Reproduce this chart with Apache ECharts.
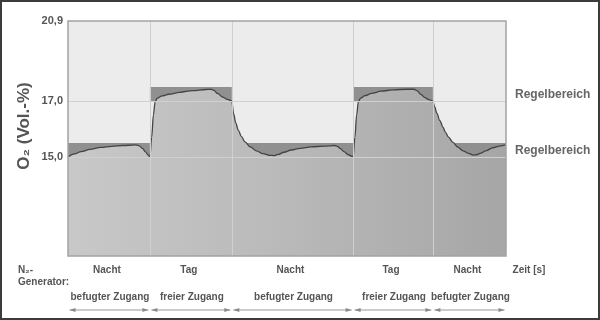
<!DOCTYPE html>
<html><head><meta charset="utf-8">
<script src="https://cdn.jsdelivr.net/npm/echarts@6/dist/echarts.min.js"></script>
<style>html,body{margin:0;padding:0;background:#fff}#c{width:600px;height:320px}</style>
</head><body><div id="c"></div>
<script>
// ---- data ----
const phaseNames = ['Nacht', 'Tag', 'Nacht', 'Tag', 'Nacht'];
const accessNames = ['befugter Zugang', 'freier Zugang', 'befugter Zugang', 'freier Zugang', 'befugter Zugang'];
const phaseBounds = [0, 18.7, 37.4, 65.1, 83.3, 100];   // time (arbitrary units)
const bandLow  = [15.0, 17.0, 15.0, 17.0, 15.0];       // Regelbereich lower limit (Vol.-%)
const bandHigh = [15.5, 17.5, 15.5, 17.5, 15.5];       // Regelbereich upper limit
const yTickValues = [15.0, 17.0, 20.9];
const yTickLabels = ['15,0', '17,0', '20,9'];
const timeT = [
  0, 1.5, 3, 5, 7.5, 10, 12.5, 15.5, 16.3, 17.0, 17.7, 18.3, 18.7,
  19.1, 19.5, 19.9, 20.4, 21.5, 23, 25.5, 28.5, 31.5, 32.6, 33.3, 34.2, 35.3, 36.4, 37.4,
  37.8, 38.3, 38.9, 39.6, 40.4, 41.6, 43.0, 44.5, 46.0, 47.0, 48.0, 49.3, 51.0, 53.0, 55.5, 58.5, 60.8, 61.5, 62.2, 63.0, 64.0, 65.1,
  65.5, 65.9, 66.3, 66.8, 67.8, 69.3, 71.5, 74.2, 77.5, 79.0, 79.7, 80.5, 81.5, 82.4, 83.3,
  83.7, 84.2, 84.9, 85.6, 86.2, 86.8, 87.9, 89.0, 90.2, 91.4, 92.5, 93.3, 94.3, 95.5, 97.0, 98.5, 100];
const o2 = [
  15.00, 15.11, 15.19, 15.27, 15.34, 15.38, 15.41, 15.43, 15.40, 15.31, 15.18, 15.07, 15.00,
  15.70, 16.50, 16.98, 17.10, 17.18, 17.24, 17.31, 17.37, 17.41, 17.42, 17.38, 17.26, 17.14, 17.06, 17.00,
  16.55, 16.22, 15.95, 15.73, 15.54, 15.36, 15.22, 15.12, 15.06, 15.05, 15.09, 15.17, 15.25, 15.31, 15.36, 15.39, 15.41, 15.38, 15.30, 15.19, 15.08, 15.00,
  15.70, 16.50, 16.98, 17.10, 17.19, 17.27, 17.35, 17.40, 17.42, 17.42, 17.37, 17.24, 17.12, 17.05, 17.00,
  16.80, 16.57, 16.30, 16.07, 15.88, 15.72, 15.52, 15.35, 15.22, 15.13, 15.07, 15.08, 15.14, 15.23, 15.33, 15.39, 15.43];

// schematic axis: linear up to 17.5, compressed above (top = 20,9)
const Y_BOTTOM = 11.464, Y_TOP_DISP = 19.857;
function toAxis(v) { return v <= 17.5 ? v : 17.5 + (v - 17.5) * (Y_TOP_DISP - 17.5) / (20.9 - 17.5); }

const curve = timeT.map((t, i) => [t, toAxis(o2[i])]);
const bands = phaseNames.map((n, i) => [
  { xAxis: phaseBounds[i], yAxis: toAxis(bandLow[i]) },
  { xAxis: phaseBounds[i + 1], yAxis: toAxis(bandHigh[i]) }
]);
const gridLines = [];
phaseBounds.slice(1, -1).forEach(b => gridLines.push({ xAxis: b }));
yTickValues.slice(0, -1).forEach(v => gridLines.push({ yAxis: toAxis(v) }));

const FONT = '"Liberation Sans", Arial, sans-serif';
const TXT = '#555';

const chart = echarts.init(document.getElementById('c'), null, { renderer: 'canvas' });
chart.setOption({
  animation: false,
  grid: { left: 68, right: 94, top: 21, bottom: 64, show: true, backgroundColor: '#ececec', borderWidth: 0 },
  xAxis: { type: 'value', min: 0, max: 100, show: false },
  yAxis: { type: 'value', min: Y_BOTTOM, max: Y_TOP_DISP, show: false },
  series: [
    { type: 'line', data: curve, z: 1, smooth: 0.35, smoothMonotone: 'x', symbol: 'none',
      lineStyle: { width: 0 },
      areaStyle: { origin: 'start', opacity: 1,
        color: new echarts.graphic.LinearGradient(0, 0, 1, 0, [
          { offset: 0, color: '#c8c8c8' }, { offset: 0.5, color: '#b9b9b9' }, { offset: 1, color: '#a6a6a6' }]) } },
    { type: 'line', data: [], z: 2, symbol: 'none',
      markArea: { silent: true, itemStyle: { color: 'rgba(70,70,70,0.55)' }, data: bands },
      markLine: { silent: true, symbol: 'none', label: { show: false },
        lineStyle: { color: '#d0d0d0', width: 1, type: 'solid' }, data: gridLines } },
    { type: 'line', data: curve, z: 3, smooth: 0.35, smoothMonotone: 'x', symbol: 'none',
      lineStyle: { color: '#444', width: 1.3 } }
  ]
});

// annotation texts placed via the chart's own scales
const px = v => chart.convertToPixel({ xAxisIndex: 0 }, v);
const py = v => chart.convertToPixel({ yAxisIndex: 0 }, toAxis(v));
const g = [];
const x0 = px(phaseBounds[0]), x1 = px(phaseBounds[phaseBounds.length - 1]);
const yTop = py(20.9), yBot = chart.convertToPixel({ yAxisIndex: 0 }, Y_BOTTOM);
g.push({ type: 'rect', z: 100, shape: { x: x0, y: yTop, width: x1 - x0, height: yBot - yTop },
  style: { fill: null, stroke: '#a3a3a3', lineWidth: 1.5 } });
yTickValues.forEach((v, i) => g.push({ type: 'text', z: 100, x: x0 - 5, y: py(v),
  style: { text: yTickLabels[i], font: 'bold 11px ' + FONT, fill: TXT, align: 'right', verticalAlign: 'middle' } }));
g.push({ type: 'text', z: 100, x: 24, y: 126, rotation: Math.PI / 2,
  style: { text: 'O₂ (Vol.-%)', font: 'bold 17px ' + FONT, fill: TXT, align: 'center', verticalAlign: 'middle' } });
// Regelbereich labels
[1, 0].forEach(i => g.push({ type: 'text', z: 100, x: x1 + 9, y: py((bandLow[i] + bandHigh[i]) / 2) + 1,
  style: { text: 'Regelbereich', font: 'bold 12px ' + FONT, fill: '#666', align: 'left', verticalAlign: 'middle' } }));
const yPhase = yBot + 14, yAccess = yBot + 41, yArrow = yBot + 54;
g.push({ type: 'text', z: 100, x: 18, y: yPhase, style: { text: 'N₂-', font: 'bold 10px ' + FONT, fill: TXT, align: 'left', verticalAlign: 'middle' } });
g.push({ type: 'text', z: 100, x: 18, y: yPhase + 12, style: { text: 'Generator:', font: 'bold 10px ' + FONT, fill: TXT, align: 'left', verticalAlign: 'middle' } });
g.push({ type: 'text', z: 100, x: x1 + 23, y: yPhase, style: { text: 'Zeit [s]', font: 'bold 10px ' + FONT, fill: TXT, align: 'center', verticalAlign: 'middle' } });
phaseNames.forEach((n, i) => {
  const a = px(phaseBounds[i]), b = px(phaseBounds[i + 1]), c = (a + b) / 2;
  g.push({ type: 'text', z: 100, x: c - 2, y: yPhase, style: { text: n, font: 'bold 10px ' + FONT, fill: TXT, align: 'center', verticalAlign: 'middle' } });
  g.push({ type: 'text', z: 100, x: c + 1, y: yAccess, style: { text: accessNames[i], font: 'bold 10px ' + FONT, fill: TXT, align: 'center', verticalAlign: 'middle' } });
  const l = a + 1.5, r = b - 1.5;
  g.push({ type: 'line', z: 100, shape: { x1: l, y1: yArrow, x2: r, y2: yArrow }, style: { stroke: '#9a9a9a', lineWidth: 1 } });
  g.push({ type: 'polygon', z: 100, shape: { points: [[l, yArrow], [l + 6, yArrow - 2], [l + 6, yArrow + 2]] }, style: { fill: '#8a8a8a' } });
  g.push({ type: 'polygon', z: 100, shape: { points: [[r, yArrow], [r - 6, yArrow - 2], [r - 6, yArrow + 2]] }, style: { fill: '#8a8a8a' } });
});
g.push({ type: 'rect', z: 100, shape: { x: 1, y: 1, width: 598, height: 318 }, style: { fill: null, stroke: '#3c3c3c', lineWidth: 2 } });
chart.setOption({ graphic: g });
</script></body></html>
